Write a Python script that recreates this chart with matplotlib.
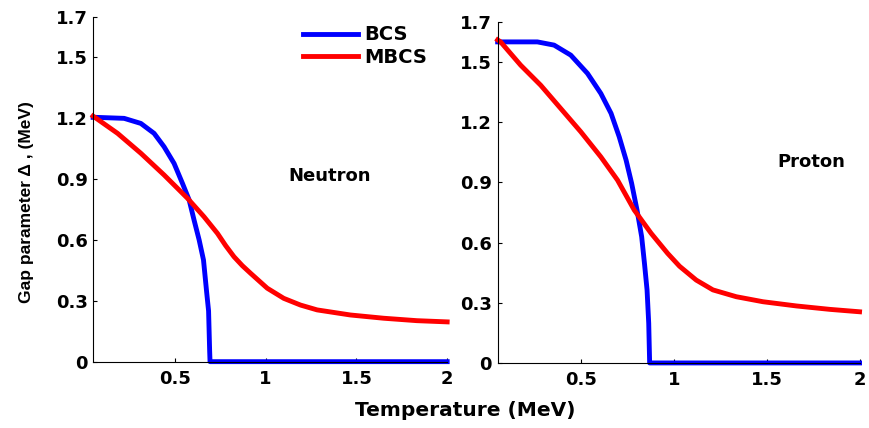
import matplotlib.pyplot as plt

plt.rcParams['font.family'] = ['DejaVu Sans']
plt.rcParams['font.weight'] = 'bold'

# neutron
n_bcs_t = [0.05, 0.066, 0.221, 0.313, 0.386, 0.441, 0.496, 0.542, 0.579, 0.606, 0.634,
           0.658, 0.676, 0.686, 0.692, 0.694, 1.0, 1.5, 2.0]
n_bcs_d = [1.204, 1.204, 1.199, 1.174, 1.125, 1.059, 0.977, 0.879, 0.797, 0.698, 0.600,
           0.501, 0.337, 0.25, 0.05, 0.0, 0.0, 0.0, 0.0]
n_mbcs_t = [0.05, 0.066, 0.185, 0.313, 0.441, 0.57, 0.661, 0.735, 0.78, 0.826, 0.872, 0.918,
            1.009, 1.10, 1.192, 1.284, 1.467, 1.65, 1.833, 2.0]
n_mbcs_d = [1.21, 1.20, 1.125, 1.027, 0.920, 0.805, 0.714, 0.632, 0.572, 0.517, 0.473, 0.435,
            0.362, 0.312, 0.279, 0.255, 0.230, 0.214, 0.202, 0.196]

# proton
p_bcs_t = [0.05, 0.066, 0.264, 0.354, 0.444, 0.534, 0.606, 0.661, 0.705, 0.742, 0.772,
           0.801, 0.826, 0.841, 0.855, 0.864, 0.869, 1.0, 1.5, 2.0]
p_bcs_d = [1.60, 1.60, 1.60, 1.584, 1.534, 1.443, 1.343, 1.244, 1.127, 1.011, 0.895,
           0.762, 0.629, 0.497, 0.364, 0.198, 0.0, 0.0, 0.0, 0.0]
p_mbcs_t = [0.05, 0.066, 0.174, 0.282, 0.39, 0.498, 0.606, 0.696, 0.786, 0.877, 0.966,
            1.03, 1.12, 1.21, 1.336, 1.48, 1.66, 1.84, 2.0]
p_mbcs_d = [1.61, 1.60, 1.484, 1.384, 1.268, 1.152, 1.027, 0.911, 0.762, 0.646, 0.546,
            0.482, 0.413, 0.364, 0.330, 0.305, 0.284, 0.267, 0.255]

yticks = [0, 0.3, 0.6, 0.9, 1.2, 1.5, 1.7]
ytick_labels = ['0', '0.3', '0.6', '0.9', '1.2', '1.5', '1.7']
xticks = [0.5, 1, 1.5, 2]
xtick_labels = ['0.5', '1', '1.5', '2']

fig = plt.figure(figsize=(8.7, 4.28), dpi=100)
ax1 = fig.add_axes([0.107, 0.155, 0.407, 0.806])
ax2 = fig.add_axes([0.572, 0.152, 0.416, 0.797])

for ax in (ax1, ax2):
    ax.set_xlim(0.05, 2)
    ax.set_ylim(0, 1.7)
    ax.set_yticks(yticks)
    ax.set_yticklabels(ytick_labels)
    ax.set_xticks(xticks)
    ax.set_xticklabels(xtick_labels)
    ax.tick_params(direction='in', length=3, labelsize=13)
    ax.tick_params(axis='y', pad=4)
    ax.tick_params(axis='x', pad=6)
    ax.spines['top'].set_visible(False)
    ax.spines['right'].set_visible(False)
    for lab in ax.get_xticklabels() + ax.get_yticklabels():
        lab.set_fontweight('bold')

ax1.plot(n_bcs_t, n_bcs_d, color='#0000ff', lw=3.5, label='BCS', clip_on=False)
ax1.plot(n_mbcs_t, n_mbcs_d, color='#ff0000', lw=3.5, label='MBCS', clip_on=False)
ax2.plot(p_bcs_t, p_bcs_d, color='#0000ff', lw=3.5, clip_on=False)
ax2.plot(p_mbcs_t, p_mbcs_d, color='#ff0000', lw=3.5, clip_on=False)

ax1.legend(loc='upper left', bbox_to_anchor=(0.593, 0.975), frameon=False,
           prop={'weight': 'bold', 'size': 14}, handlelength=2.8,
           handletextpad=0.36, labelspacing=0.2, borderpad=0, borderaxespad=0)

ax1.text(1.126, 0.89, 'Neutron', fontsize=13, fontweight='bold')
ax2.text(1.558, 0.977, 'Proton', fontsize=13, fontweight='bold')

fig.text(0.030, 0.528, 'Gap parameter Δ , (MeV)', rotation=90, ha='center', va='center',
         fontsize=12.5, fontweight='bold', family=['Liberation Sans', 'DejaVu Sans'])
fig.text(0.535, 0.028, 'Temperature (MeV)', ha='center', fontsize=14.5, fontweight='bold')

fig.savefig('out.png', dpi=100)
